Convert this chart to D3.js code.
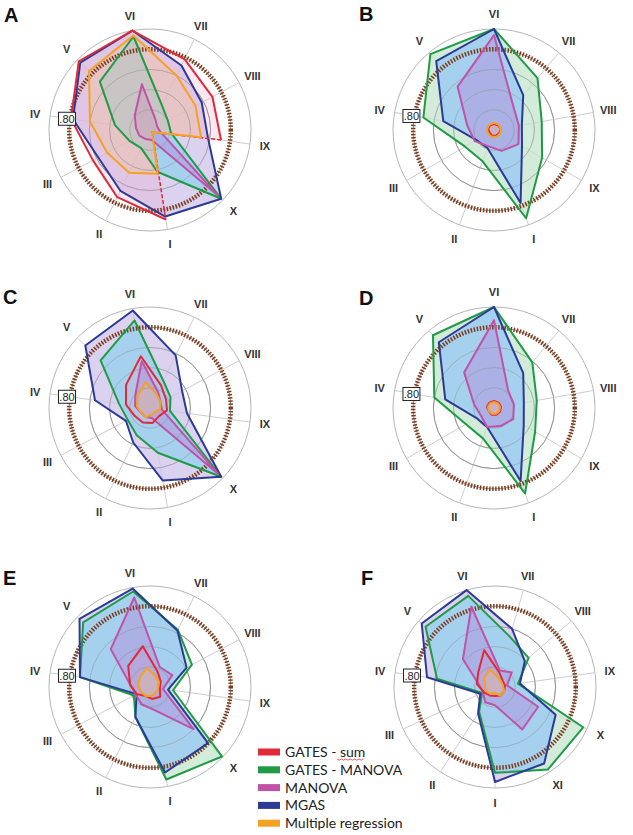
<!DOCTYPE html>
<html>
<head>
<meta charset="utf-8">
<script src="https://cdn.jsdelivr.net/npm/d3@7"></script>
<style>
  body { margin: 0; background: #fff; }
  svg { display: block; }
</style>
</head>
<body>
<script>
// series names, in legend order
var seriesNames = ["GATES - sum", "GATES - MANOVA", "MANOVA", "MGAS", "Multiple regression"];

// axis labels
var axes9  = ["I", "II", "III", "IV", "V", "VI", "VII", "VIII", "IX"];
var axes10 = ["I", "II", "III", "IV", "V", "VI", "VII", "VIII", "IX", "X"];
var axes11 = ["I", "II", "III", "IV", "V", "VI", "VII", "VIII", "IX", "X", "XI"];

// values per panel: one row per series (same order as seriesNames), one value per axis
var valuesA = [
  [0.90, 0.74, 0.64, 0.79, 0.98, 1.00, 0.78, 0.70, 0.71, 0.03],
  [0.42, 0.20, 0.23, 0.35, 0.69, 0.94, 0.27, 0.20, 0.21, 0.98],
  [0.10, 0.10, 0.12, 0.14, 0.21, 0.46, 0.12, 0.08, 0.10, 0.93],
  [0.87, 0.67, 0.58, 0.77, 0.96, 1.00, 0.71, 0.58, 0.58, 0.98],
  [0.44, 0.47, 0.48, 0.60, 0.84, 0.95, 0.60, 0.51, 0.51, 0.03]
];
var valuesB = [
  [0.06, 0.06, 0.05, 0.06, 0.06, 0.06, 0.06, 0.07, 0.06],
  [0.93, 0.33, 0.33, 0.71, 0.98, 1.00, 0.67, 0.48, 0.55],
  [0.22, 0.17, 0.22, 0.27, 0.56, 0.94, 0.30, 0.25, 0.28],
  [0.77, 0.19, 0.20, 0.51, 0.89, 1.00, 0.45, 0.28, 0.32],
  [0.07, 0.07, 0.07, 0.07, 0.07, 0.07, 0.07, 0.07, 0.07]
];
var valuesC = [
  [0.15, 0.16, 0.17, 0.24, 0.33, 0.52, 0.25, 0.18, 0.17, 0.12],
  [0.45, 0.30, 0.25, 0.31, 0.68, 0.88, 0.30, 0.23, 0.20, 0.98],
  [0.10, 0.10, 0.10, 0.15, 0.20, 0.47, 0.18, 0.12, 0.12, 0.94],
  [0.73, 0.38, 0.27, 0.55, 0.89, 0.98, 0.58, 0.36, 0.37, 0.98],
  [0.07, 0.10, 0.10, 0.13, 0.17, 0.26, 0.15, 0.12, 0.10, 0.06]
];
var valuesD = [
  [0.07, 0.07, 0.06, 0.07, 0.07, 0.07, 0.07, 0.07, 0.07],
  [0.90, 0.32, 0.32, 0.60, 0.94, 1.00, 0.59, 0.43, 0.47],
  [0.19, 0.20, 0.15, 0.20, 0.46, 0.87, 0.22, 0.20, 0.22],
  [0.77, 0.20, 0.20, 0.49, 0.85, 1.00, 0.45, 0.30, 0.34],
  [0.06, 0.06, 0.06, 0.06, 0.06, 0.06, 0.06, 0.06, 0.06]
];
var valuesE = [
  [0.12, 0.10, 0.15, 0.20, 0.30, 0.41, 0.17, 0.12, 0.10, 0.14],
  [0.93, 0.33, 0.18, 0.70, 0.92, 0.96, 0.63, 0.47, 0.23, 0.99],
  [0.23, 0.19, 0.16, 0.20, 0.54, 0.90, 0.22, 0.25, 0.13, 0.60],
  [0.86, 0.33, 0.15, 0.70, 0.97, 0.99, 0.62, 0.41, 0.18, 0.80],
  [0.09, 0.10, 0.10, 0.12, 0.14, 0.19, 0.12, 0.10, 0.08, 0.08]
];
var valuesF = [
  [0.09, 0.10, 0.12, 0.18, 0.22, 0.38, 0.15, 0.10, 0.10, 0.10, 0.10],
  [0.85, 0.29, 0.14, 0.58, 0.91, 0.94, 0.52, 0.44, 0.23, 0.96, 0.97],
  [0.18, 0.18, 0.13, 0.16, 0.42, 0.83, 0.17, 0.22, 0.12, 0.47, 0.50],
  [0.94, 0.31, 0.16, 0.68, 0.96, 1.00, 0.60, 0.39, 0.25, 0.66, 0.90],
  [0.06, 0.08, 0.10, 0.10, 0.14, 0.18, 0.10, 0.08, 0.08, 0.10, 0.10]
];

// grid rings and the highlighted threshold
var ringTicks = [0.2, 0.4, 0.6, 0.8, 1.0];
var threshold = 0.8;
// GATES - sum has no value on axis X in panel A: drawn dashed
var missingA = ["X"];

var lineColors = ["#e02a3a", "#1f9a45", "#c052a8", "#2b3a94", "#f5a122"];
var fillColors = ["rgba(240,150,185,0.22)", "rgba(196,230,204,0.75)", "rgba(185,110,205,0.32)",
                  "rgba(205,192,234,0.72)", "rgba(250,200,130,0.30)"];
// where MGAS and GATES - MANOVA overlap the picture shows light blue
var overlapFill = "rgba(160,210,240,0.9)";

var wx = 633, hy = 835, R = 101;

var svg = d3.select("body").append("svg")
    .attr("width", wx)
    .attr("height", hy);
var defs = svg.append("defs");

var r = d3.scaleLinear().domain([0, 1]).range([0, R]);

function drawPanel(letter, cx, cy, lx, ly, axes, values, startDeg, missing) {
  var n = axes.length;
  var ang = d3.scaleLinear().domain([0, n]).range([startDeg * Math.PI / 180, startDeg * Math.PI / 180 + 2 * Math.PI]);
  var g = svg.append("g").attr("transform", "translate(" + cx + "," + cy + ")");

  var radial = d3.lineRadial()
      .angle(function(d, i) { return ang(i); })
      .radius(function(d) { return r(d); })
      .curve(d3.curveLinearClosed);

  // rings
  g.selectAll("circle.ring").data(ringTicks).enter().append("circle")
      .attr("class", "ring")
      .attr("r", function(d) { return r(d); })
      .attr("fill", "none")
      .attr("stroke", function(d) { return d == 1 ? "#b5b5b5" : "#9a9a9a"; })
      .attr("stroke-width", 1);

  // spokes
  g.selectAll("line.spoke").data(axes).enter().append("line")
      .attr("class", "spoke")
      .attr("x1", 0).attr("y1", 0)
      .attr("x2", function(d, i) { return r(1) * Math.sin(ang(i)); })
      .attr("y2", function(d, i) { return -r(1) * Math.cos(ang(i)); })
      .attr("stroke", "#cdcdcd")
      .attr("stroke-width", 1);

  // fills: green, MGAS, overlap, red, magenta, orange
  g.append("path").attr("d", radial(values[1])).attr("fill", fillColors[1]);
  g.append("path").attr("d", radial(values[3])).attr("fill", fillColors[3]);

  defs.append("clipPath").attr("id", "clipG" + letter)
    .append("path")
      .attr("d", radial(values[1]));
  g.append("path")
      .attr("clip-path", "url(#clipG" + letter + ")")
      .attr("d", radial(values[3]))
      .attr("fill", overlapFill);

  [0, 2, 4].forEach(function(s) {
    g.append("path").attr("d", radial(values[s])).attr("fill", fillColors[s]);
  });

  // faint rings through the fills
  g.selectAll("circle.ring2").data(ringTicks.slice(0, 3)).enter().append("circle")
      .attr("class", "ring2")
      .attr("r", function(d) { return r(d); })
      .attr("fill", "none")
      .attr("stroke", "#8a8a8a")
      .attr("stroke-opacity", 0.45)
      .attr("stroke-width", 1);

  // threshold ring
  g.append("circle")
      .attr("r", r(threshold))
      .attr("fill", "none")
      .attr("stroke", "#7d3a1a")
      .attr("stroke-width", 4.5)
      .attr("stroke-dasharray", "1.5 1.6");

  // lines
  var lineOrder = [1, 3, 2, 0, 4];
  lineOrder.forEach(function(s) {
    var vals = values[s];
    var pts = vals.map(function(v, i) {
      return [r(v) * Math.sin(ang(i)), -r(v) * Math.cos(ang(i))];
    });
    if (s == 0 && missing && missing.length) {
      var mi = axes.indexOf(missing[0]);
      var prev = (mi - 1 + n) % n, next = (mi + 1) % n;
      var solid = [];
      for (var k = next; k != mi; k = (k + 1) % n) solid.push(pts[k]);
      g.append("path")
          .attr("d", d3.line()(solid))
          .attr("fill", "none")
          .attr("stroke", lineColors[s])
          .attr("stroke-width", 2)
          .attr("stroke-linejoin", "round");
      g.append("path")
          .attr("d", d3.line()([pts[prev], pts[mi], pts[next]]))
          .attr("fill", "none")
          .attr("stroke", lineColors[s])
          .attr("stroke-width", 1.5)
          .attr("stroke-dasharray", "4 2");
    } else {
      g.append("path")
          .attr("d", radial(vals))
          .attr("fill", "none")
          .attr("stroke", lineColors[s])
          .attr("stroke-width", 2)
          .attr("stroke-linejoin", "round");
    }
  });

  // .80 box on axis IV
  var iv = axes.indexOf("IV");
  var bx = r(threshold) * Math.sin(ang(iv)) - 3,
      by = -r(threshold) * Math.cos(ang(iv));
  g.append("rect")
      .attr("x", bx - 8.5).attr("y", by - 6.5)
      .attr("width", 17).attr("height", 13)
      .attr("fill", "#fff")
      .attr("stroke", "#222")
      .attr("stroke-width", 1);
  g.append("text")
      .attr("x", bx).attr("y", by + 4)
      .attr("text-anchor", "middle")
      .style("font-family", "Liberation Sans, Arial, sans-serif")
      .style("font-size", "11px")
      .style("fill", "#222")
      .text(".80");

  // axis labels
  g.selectAll("text.axis").data(axes).enter().append("text")
      .attr("class", "axis")
      .attr("x", function(d, i) { return (R + 15) * Math.sin(ang(i)); })
      .attr("y", function(d, i) { return -(R + 15) * Math.cos(ang(i)) + 4; })
      .attr("text-anchor", "middle")
      .style("font-family", "Liberation Sans, Arial, sans-serif")
      .style("font-weight", "bold")
      .style("font-size", "11px")
      .style("fill", "#333")
      .text(function(d) { return d; });

  // panel letter
  svg.append("text")
      .attr("x", lx).attr("y", ly)
      .style("font-family", "Liberation Sans, Arial, sans-serif")
      .style("font-weight", "bold")
      .style("font-size", "20px")
      .style("fill", "#111")
      .text(letter);
}

drawPanel("A", 150, 130, 4, 22, axes10, valuesA, 170, missingA);
drawPanel("B", 494, 130, 359, 21, axes9, valuesB, 160, null);
drawPanel("C", 150, 408, 3, 304, axes10, valuesC, 170, null);
drawPanel("D", 494, 408, 359, 305, axes9, valuesD, 160, null);
drawPanel("E", 150, 687, 3, 585, axes10, valuesE, 170, null);
drawPanel("F", 495, 687, 361, 585, axes11, valuesF, 180, null);

// legend
var legend = svg.append("g").attr("transform", "translate(258,752)");
var item = legend.selectAll("g").data(seriesNames).enter().append("g")
    .attr("transform", function(d, i) { return "translate(0," + (i * 17.8) + ")"; });
item.append("rect")
    .attr("x", 0).attr("y", -3.5)
    .attr("width", 22).attr("height", 7)
    .attr("fill", function(d, i) { return lineColors[i]; });
item.append("text")
    .attr("x", 27).attr("y", 5)
    .style("font-family", "Lato, Open Sans, sans-serif")
    .style("font-size", "14px")
    .style("fill", "#222")
    .text(function(d) { return d; });

// spell-check squiggle under "sum"
var sq = [];
for (var k = 0; k <= 12; k++) sq.push([337 + k * 2.2, 759 + (k % 2 ? 1.2 : 0)]);
svg.append("path")
    .attr("d", d3.line()(sq))
    .attr("fill", "none")
    .attr("stroke", "#e03030")
    .attr("stroke-width", 0.8);
</script>
</body>
</html>
